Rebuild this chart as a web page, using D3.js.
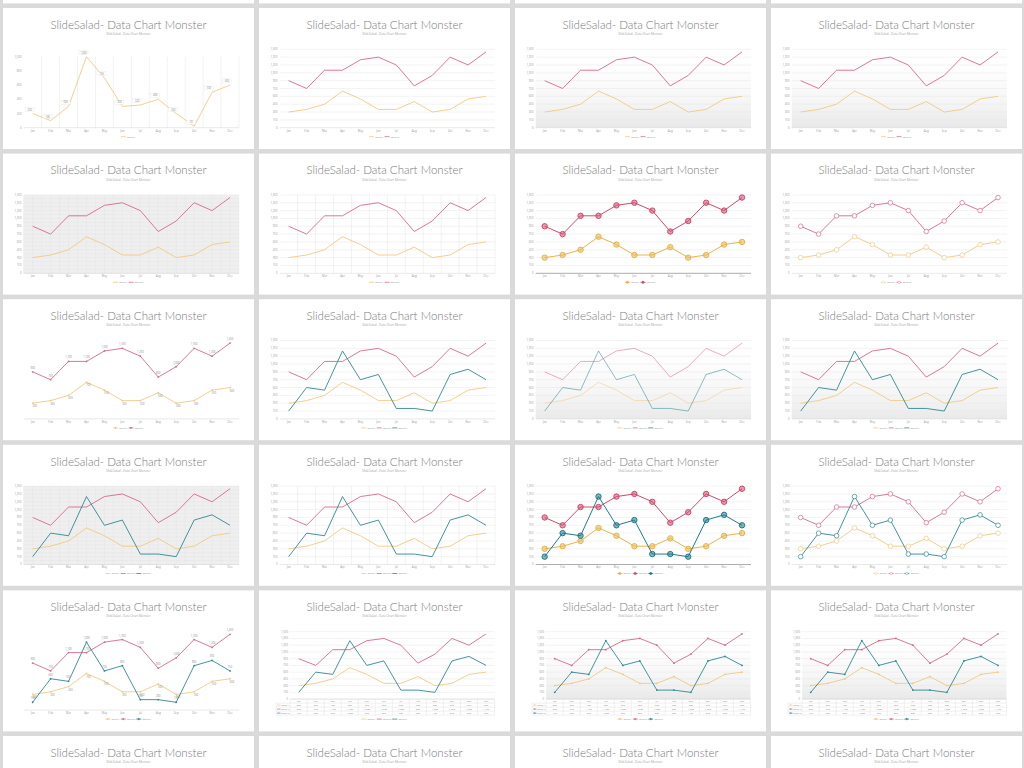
<!DOCTYPE html>
<html><head><meta charset="utf-8">
<script src="https://cdn.jsdelivr.net/npm/d3@7"></script>
<style>body{margin:0;background:#dadada;} svg{display:block}</style>
</head><body><svg id="c" width="1024" height="768"></svg>
<script>
// ---------- data ----------
const months = ["Jan","Feb","Mar","Apr","May","Jun","Jul","Aug","Sep","Oct","Nov","Dec"];
const seriesNames = ["Series 1","Series 2","Series 3"];
const series1 = [300,350,450,700,550,350,350,500,300,350,550,600];
const series2 = [900,750,1100,1100,1300,1350,1200,800,1000,1350,1200,1450];
const series3 = [150,600,550,1300,750,850,200,200,150,850,950,750];
const singleValues = [200,100,300,1000,700,300,320,400,200,20,500,600];
const yTicks = [0,150,300,450,600,750,900,1050,1200,1350,1500];
const singleTicks = [0,200,400,600,800,1000];
const titleText = "SlideSalad- Data Chart Monster";
const subtitleText = "SlideSalad - Data Chart Monster";

const allSeries = [series1, series2, series3];
const lineColors = ["#f1c982","#d7698a","#2f8893"];
const strongColors = ["#e9b44c","#d04a6c","#1f7c88"];

// panel styles (row by row, 4 per row)
const panelStyles = [
  [{blank:true},{blank:true},{blank:true},{blank:true}],
  [{single:true, grid:"v", boxLabels:true},
   {n:2, grid:"h"},
   {n:2, grid:"h", bg:"gradient"},
   {n:2, grid:"h", bg:"gradient"}],
  [{n:2, bg:"gray"},
   {n:2, grid:"hv"},
   {n:2, grid:"h", markers:"filled", darkAxis:true},
   {n:2, grid:"h", markers:"hollow"}],
  [{n:2, markers:"small", labels:true},
   {n:3, grid:"h"},
   {n:3, grid:"h", bg:"gradient", pale:true},
   {n:3, grid:"h", bg:"gradient"}],
  [{n:3, bg:"gray"},
   {n:3, grid:"hv"},
   {n:3, grid:"h", markers:"filled", darkAxis:true},
   {n:3, grid:"h", markers:"hollow"}],
  [{n:3, markers:"small", labels:true},
   {n:3, grid:"h", table:true},
   {n:3, grid:"h", table:true, markers:"small", bg:"gradient"},
   {n:3, grid:"h", table:true, markers:"small", bg:"gradient"}],
  [{n:2, grid:"h"},{n:2, grid:"h"},{n:2, grid:"h"},{n:2, grid:"h"}]
];

const svg = d3.select("#c");
svg.append("rect").attr("width",1024).attr("height",768).attr("fill","#dadada");
const defs = svg.append("defs");
const grad = defs.append("linearGradient").attr("id","fade").attr("x1",0).attr("y1",0).attr("x2",0).attr("y2",1);
grad.append("stop").attr("offset","0%").attr("stop-color","#ffffff").attr("stop-opacity",0);
grad.append("stop").attr("offset","100%").attr("stop-color","#e9e9e9").attr("stop-opacity",1);

const PW = 251, PH = 141;
const colX = [3, 259, 515, 771];
const rowY0 = 8 - 145.6;
const fmt = d3.format(",");
const FONT = "'Open Sans', sans-serif";

function drawPanel(px, py, cfg) {
  const g = svg.append("g").attr("transform", `translate(${px},${py})`);
  g.append("rect").attr("width", PW).attr("height", PH).attr("fill", "#ffffff");
  if (cfg.blank) return;
  g.append("text").attr("x", PW/2).attr("y", 20.8).attr("text-anchor","middle")
    .attr("font-family","Lato, sans-serif").attr("font-weight",300).attr("font-size",11.5)
    .attr("fill","#7b7b7b").text(titleText);
  g.append("text").attr("x", PW/2).attr("y", 27).attr("text-anchor","middle")
    .attr("font-family",FONT).attr("font-size",3).attr("fill","#a5a5a5").text(subtitleText);

  const table = !!cfg.table;
  const L = table ? 31.2 : 20.7, R = table ? 235.5 : 236;
  const B = table ? 108.7 : 119.7, T = cfg.single ? 48.7 : 41.3;
  const ticks = cfg.single ? singleTicks : yTicks;
  const x = d3.scalePoint().domain(months).range([L, R]).padding(0.5);
  const y = d3.scaleLinear().domain([0, d3.max(ticks)]).range([B, T]);
  const step = x.step();
  const data = cfg.single ? [singleValues] : allSeries.slice(0, cfg.n);
  const colors = (cfg.markers === "filled") ? strongColors : lineColors;

  // plot background
  if (cfg.bg === "gray") {
    g.append("rect").attr("x", L).attr("y", T).attr("width", R-L).attr("height", B-T).attr("fill","#efefef");
    const minor = d3.range(0, 1501, 75);
    g.selectAll(null).data(minor).join("line")
      .attr("x1", L).attr("x2", R).attr("y1", d=>y(d)).attr("y2", d=>y(d))
      .attr("stroke","#e2e2e2").attr("stroke-width",0.4);
    const vx = d3.range(0, 25).map(i => L + i*step/2);
    g.selectAll(null).data(vx).join("line")
      .attr("x1", d=>d).attr("x2", d=>d).attr("y1", T).attr("y2", B)
      .attr("stroke","#e2e2e2").attr("stroke-width",0.4);
  } else if (cfg.bg === "gradient") {
    g.append("rect").attr("x", L).attr("y", T).attr("width", R-L).attr("height", B-T).attr("fill","url(#fade)");
  }
  // grid
  if (cfg.grid === "h" || cfg.grid === "hv") {
    g.selectAll(null).data(ticks.slice(1)).join("line")
      .attr("x1", L).attr("x2", R).attr("y1", d=>y(d)).attr("y2", d=>y(d))
      .attr("stroke","#e6e6e6").attr("stroke-width",0.5);
  }
  if (cfg.grid === "v" || cfg.grid === "hv") {
    g.selectAll(null).data(months).join("line")
      .attr("x1", d=>x(d)+step/2).attr("x2", d=>x(d)+step/2).attr("y1", T).attr("y2", B)
      .attr("stroke","#e4e4e4").attr("stroke-width",0.5);
  }
  // axis line
  g.append("line").attr("x1", L).attr("x2", R).attr("y1", B).attr("y2", B)
    .attr("stroke", cfg.darkAxis ? "#8a8a8a" : "#d2d2d2").attr("stroke-width", cfg.darkAxis ? 0.7 : 0.5);

  // y labels
  if (!(cfg.labels)) {
    g.selectAll(null).data(ticks).join("text")
      .attr("x", L - 2.2).attr("y", d=>y(d)+1).attr("text-anchor","end")
      .attr("font-family",FONT).attr("font-size",2.8).attr("fill","#9a9a9a").text(d=>fmt(d));
  }
  // x labels
  if (!table) {
    g.selectAll(null).data(months).join("text")
      .attr("x", d=>x(d)).attr("y", B + 4).attr("text-anchor","middle")
      .attr("font-family",FONT).attr("font-size",2.8).attr("fill","#9a9a9a").text(d=>d);
  }

  // lines
  const line = d3.line().x((d,i)=>x(months[i])).y(d=>y(d));
  data.forEach((vals, si) => {
    g.append("path").attr("d", line(vals)).attr("fill","none")
      .attr("stroke", colors[si]).attr("stroke-width", cfg.markers==="filled" ? 1 : 0.9)
      .attr("stroke-opacity", cfg.pale ? 0.6 : 1).attr("stroke-linejoin","round");
    if (cfg.markers === "filled") {
      g.selectAll(null).data(vals).join("circle")
        .attr("cx",(d,i)=>x(months[i])).attr("cy",d=>y(d)).attr("r",2.7)
        .attr("fill", colors[si]).attr("fill-opacity",0.55).attr("stroke",colors[si]).attr("stroke-width",1);
    } else if (cfg.markers === "hollow") {
      g.selectAll(null).data(vals).join("circle")
        .attr("cx",(d,i)=>x(months[i])).attr("cy",d=>y(d)).attr("r",2.3)
        .attr("fill", "#ffffff").attr("stroke",colors[si]).attr("stroke-width",0.7);
    } else if (cfg.markers === "small") {
      g.selectAll(null).data(vals).join("circle")
        .attr("cx",(d,i)=>x(months[i])).attr("cy",d=>y(d)).attr("r",0.9)
        .attr("fill", colors[si]);
    }
    if (cfg.labels) {
      g.selectAll(null).data(vals).join("text")
        .attr("x",(d,i)=>x(months[i]) + (si===0 ? 2 : 0)).attr("y",(d,i)=>y(d) + (si===0 ? 4 : -3))
        .attr("text-anchor","middle").attr("font-family",FONT).attr("font-size",2.6)
        .attr("fill","#8a8a8a").text(d=>fmt(d));
    }
    if (cfg.boxLabels) {
      const lg = g.selectAll(null).data(vals).join("g")
        .attr("transform",(d,i)=>`translate(${x(months[i]) - 3},${y(d) - 4})`);
      lg.append("rect").attr("x",-4.5).attr("y",-2.2).attr("width",9).attr("height",4)
        .attr("fill","#ffffff").attr("stroke","#dddddd").attr("stroke-width",0.3);
      lg.append("text").attr("y",1).attr("text-anchor","middle").attr("font-family",FONT)
        .attr("font-size",2.6).attr("fill","#888").text(d=>fmt(d));
    }
  });

  // data table
  if (table) {
    const rowH = 4, tTop = B, tLeft = 17;
    const nRows = data.length + 1;
    const tg = g.append("g");
    d3.range(nRows + 1).forEach(r => {
      tg.append("line").attr("x1", r===0 ? L : tLeft).attr("x2", R)
        .attr("y1", tTop + r*rowH).attr("y2", tTop + r*rowH)
        .attr("stroke","#dcdcdc").attr("stroke-width",0.4);
    });
    const vlines = [tLeft, L].concat(months.map(m => x(m) + step/2));
    vlines.forEach((vx, i) => {
      tg.append("line").attr("x1", vx).attr("x2", vx)
        .attr("y1", i===0 ? tTop + rowH : tTop).attr("y2", tTop + nRows*rowH)
        .attr("stroke","#dcdcdc").attr("stroke-width",0.4);
    });
    tg.selectAll(null).data(months).join("text")
      .attr("x", d=>x(d)).attr("y", tTop + 2.9).attr("text-anchor","middle")
      .attr("font-family",FONT).attr("font-size",2.5).attr("fill","#8a8a8a").text(d=>d);
    data.forEach((vals, si) => {
      const ry = tTop + (si+1)*rowH;
      tg.append("line").attr("x1", tLeft+1).attr("x2", tLeft+4.5).attr("y1", ry+2).attr("y2", ry+2)
        .attr("stroke", colors[si]).attr("stroke-width",0.7);
      if (cfg.markers === "small") tg.append("circle").attr("cx", tLeft+2.75).attr("cy", ry+2).attr("r",0.7).attr("fill",colors[si]);
      tg.append("text").attr("x", tLeft+5.2).attr("y", ry+2.9).attr("font-family",FONT)
        .attr("font-size",2.2).attr("fill","#8a8a8a").text(seriesNames[si]);
      tg.selectAll(null).data(vals).join("text")
        .attr("x",(d,i)=>x(months[i])).attr("y", ry+2.9).attr("text-anchor","middle")
        .attr("font-family",FONT).attr("font-size",2.5).attr("fill","#8a8a8a").text(d=>fmt(d));
    });
  }

  // legend
  const names = seriesNames.slice(0, data.length);
  const itemW = 15.5;
  const lx0 = PW/2 - names.length*itemW/2;
  const ly = 128.7;
  names.forEach((nm, si) => {
    const ix = lx0 + si*itemW;
    g.append("line").attr("x1", ix).attr("x2", ix+5).attr("y1", ly).attr("y2", ly)
      .attr("stroke", colors[si]).attr("stroke-width", 0.8);
    if (cfg.markers === "filled" || cfg.markers === "hollow" || cfg.markers === "small")
      g.append("circle").attr("cx", ix+2.5).attr("cy", ly).attr("r", cfg.markers==="small"?0.8:1.2)
        .attr("fill", cfg.markers==="hollow" ? "#fff" : colors[si]).attr("stroke", colors[si]).attr("stroke-width",0.4);
    g.append("text").attr("x", ix+6.3).attr("y", ly+0.9).attr("font-family",FONT)
      .attr("font-size",2.3).attr("fill","#8a8a8a").text(nm);
  });
}

panelStyles.forEach((row, r) => {
  row.forEach((cfg, c) => drawPanel(colX[c], rowY0 + r*145.6, cfg));
});
</script></body></html>
